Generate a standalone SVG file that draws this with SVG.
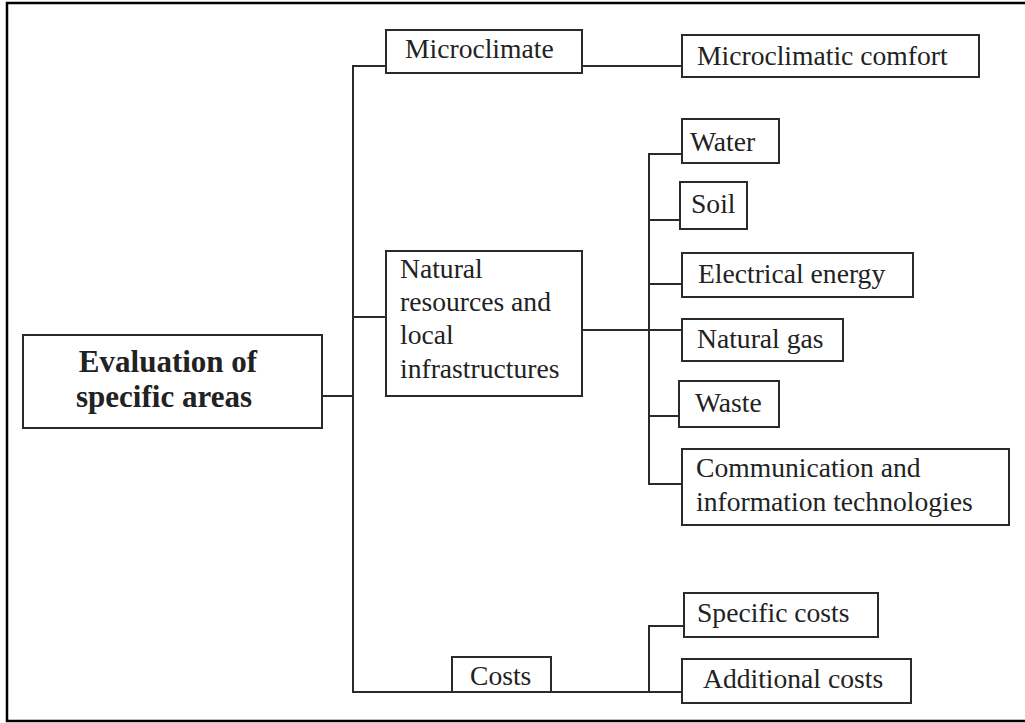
<svg xmlns="http://www.w3.org/2000/svg" width="1025" height="723" viewBox="0 0 1025 723">
<style>
.box{fill:#fff;stroke:#2a2a2a;stroke-width:2}
.t{font-family:"Liberation Serif","Times New Roman",serif;font-size:27.6px;fill:#222}
.b{font-family:"Liberation Serif","Times New Roman",serif;font-size:31px;font-weight:bold;fill:#222;text-anchor:middle}
.c{fill:none;stroke:#2a2a2a;stroke-width:2}
.frame{fill:none;stroke:#000;stroke-width:2.5}
</style>
<rect width="1025" height="723" fill="#fff"/>
<path class="frame" d="M1025,3 H7 V721 H1025"/>
<g id="connectors">
<path class="c" d="M386,66 H353 V692 H452"/>
<path class="c" d="M353,317 H386"/>
<path class="c" d="M322,396 H353"/>
<path class="c" d="M551,692 H682"/>
<path class="c" d="M582,66 H682"/>
<path class="c" d="M582,330 H682"/>
<path class="c" d="M682,154 H649 V484 H682"/>
<path class="c" d="M649,220 H680"/>
<path class="c" d="M649,284 H682"/>
<path class="c" d="M649,416 H679"/>
<path class="c" d="M684,626 H649 V692"/>
</g>
<g id="evaluation">
<rect class="box" x="23" y="335" width="299" height="93"/>
<text class="b" x="168" y="372">Evaluation of</text>
<text class="b" x="164" y="407">specific areas</text>
</g>
<g id="microclimate">
<rect class="box" x="386" y="30" width="196" height="43"/>
<text class="t" x="405" y="58">Microclimate</text>
</g>
<g id="natural-resources">
<rect class="box" x="386" y="251" width="196" height="145"/>
<text class="t" x="400" y="278">Natural</text>
<text class="t" x="400" y="311">resources and</text>
<text class="t" x="400" y="344">local</text>
<text class="t" x="400" y="378">infrastructures</text>
</g>
<g id="costs">
<rect class="box" x="452" y="657" width="99" height="35"/>
<text class="t" x="470" y="685">Costs</text>
</g>
<g id="microclimatic-comfort">
<rect class="box" x="682" y="35" width="297" height="42"/>
<text class="t" x="697" y="65">Microclimatic comfort</text>
</g>
<g id="water">
<rect class="box" x="682" y="119" width="97" height="44"/>
<text class="t" x="690" y="151">Water</text>
</g>
<g id="soil">
<rect class="box" x="680" y="182" width="67" height="47"/>
<text class="t" x="691" y="213">Soil</text>
</g>
<g id="electrical-energy">
<rect class="box" x="682" y="253" width="231" height="44"/>
<text class="t" x="698" y="283">Electrical energy</text>
</g>
<g id="natural-gas">
<rect class="box" x="682" y="319" width="161" height="42"/>
<text class="t" x="697" y="348">Natural gas</text>
</g>
<g id="waste">
<rect class="box" x="679" y="381" width="100" height="46"/>
<text class="t" x="695" y="412">Waste</text>
</g>
<g id="communication">
<rect class="box" x="682" y="449" width="327" height="76"/>
<text class="t" x="696" y="477">Communication and</text>
<text class="t" x="696" y="511">information technologies</text>
</g>
<g id="specific-costs">
<rect class="box" x="684" y="593" width="194" height="44"/>
<text class="t" x="697" y="622">Specific costs</text>
</g>
<g id="additional-costs">
<rect class="box" x="682" y="659" width="229" height="44"/>
<text class="t" x="703" y="688">Additional costs</text>
</g>
</svg>
